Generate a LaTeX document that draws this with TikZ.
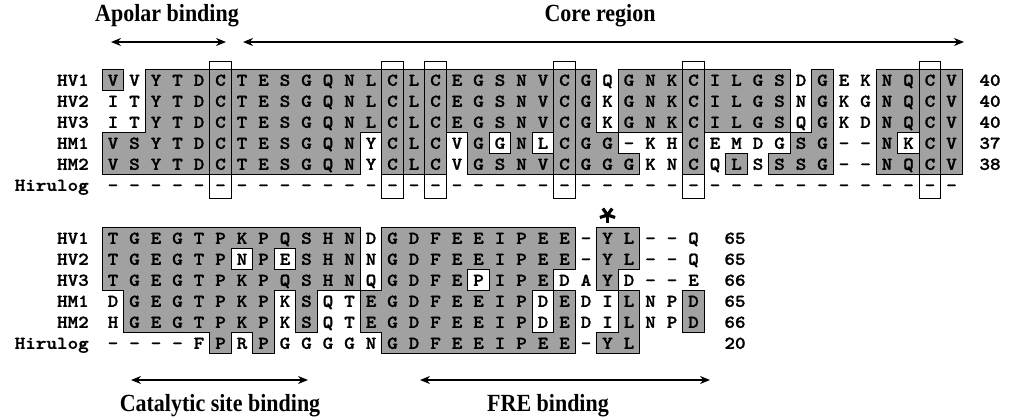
\documentclass[tikz,border=0pt]{standalone}
\usepackage{fontspec}
\setmainfont{Liberation Serif}
\newfontfamily\seqfont{lmmonolt10-bold.otf}[FakeBold=1.2]
\usetikzlibrary{arrows.meta}

% fonts
\newcommand\resfont{\seqfont\fontsize{18}{18}\selectfont}
\newcommand\headfont{\rmfamily\bfseries\fontsize{22}{22}\selectfont}
\newcommand\wideglyph[1]{\scalebox{1.12}[1]{#1}}
\newcommand\tallhead[1]{\scalebox{1}[1.12]{#1}}

% grid geometry (1 unit = 1 px, y grows downwards)
\def\cw{21.5}   % column pitch
\def\rh{21}     % row pitch
\def\xa{113}    % centre of the first column

% mark shaded cells: {block}{row}{first column}{last column}
\newcommand\shadecells[4]{%
  \foreach \k in {#3,...,#4}{\expandafter\gdef\csname sh-#1-#2-\k\endcsname{}}}

% one alignment row: {block}{row}{y}{residues}
\newcommand\putrow[4]{%
  \foreach \a [count=\cl] in {#4}{%
    \node[res] (r#1-#2-\cl) at ({\xa+(\cl-1)*\cw},{#3+5.8}) {\wideglyph{\a}};}}

% block 1 (residues 1-40)
\shadecells{1}{1}{1}{1}\shadecells{1}{1}{3}{23}\shadecells{1}{1}{25}{32}\shadecells{1}{1}{34}{34}\shadecells{1}{1}{37}{40}
\shadecells{1}{2}{3}{23}\shadecells{1}{2}{25}{32}\shadecells{1}{2}{34}{34}\shadecells{1}{2}{37}{40}
\shadecells{1}{3}{3}{23}\shadecells{1}{3}{25}{32}\shadecells{1}{3}{34}{34}\shadecells{1}{3}{37}{40}
\shadecells{1}{4}{1}{12}\shadecells{1}{4}{14}{16}\shadecells{1}{4}{18}{18}\shadecells{1}{4}{20}{20}
\shadecells{1}{4}{22}{24}\shadecells{1}{4}{28}{28}\shadecells{1}{4}{33}{34}\shadecells{1}{4}{37}{37}\shadecells{1}{4}{39}{40}
\shadecells{1}{5}{1}{12}\shadecells{1}{5}{14}{16}\shadecells{1}{5}{18}{25}\shadecells{1}{5}{28}{28}
\shadecells{1}{5}{30}{30}\shadecells{1}{5}{32}{34}\shadecells{1}{5}{37}{40}
% block 2 (C-terminal part)
\shadecells{2}{1}{1}{12}\shadecells{2}{1}{14}{22}\shadecells{2}{1}{24}{25}
\shadecells{2}{2}{1}{6}\shadecells{2}{2}{8}{8}\shadecells{2}{2}{10}{12}\shadecells{2}{2}{14}{22}\shadecells{2}{2}{24}{25}
\shadecells{2}{3}{1}{12}\shadecells{2}{3}{14}{17}\shadecells{2}{3}{19}{21}\shadecells{2}{3}{24}{24}
\shadecells{2}{4}{2}{8}\shadecells{2}{4}{10}{10}\shadecells{2}{4}{13}{20}\shadecells{2}{4}{22}{22}\shadecells{2}{4}{25}{25}\shadecells{2}{4}{28}{28}
\shadecells{2}{5}{2}{8}\shadecells{2}{5}{10}{10}\shadecells{2}{5}{13}{20}\shadecells{2}{5}{22}{22}\shadecells{2}{5}{25}{25}\shadecells{2}{5}{28}{28}
\shadecells{2}{6}{6}{6}\shadecells{2}{6}{8}{8}\shadecells{2}{6}{14}{22}\shadecells{2}{6}{24}{25}

\begin{document}
\begin{tikzpicture}[x=1pt,y=-1pt,
  cell/.style={fill=black!37},
  rim/.style={draw=black,line width=0.9pt,line cap=rect},
  res/.style={font=\resfont,inner sep=0pt,anchor=base},
  lab/.style={font=\resfont,inner sep=0pt,anchor=base east},
  head/.style={font=\headfont,inner sep=0pt},
  dbl/.style={{Stealth[length=10pt,width=8pt]}-{Stealth[length=10pt,width=8pt]},line width=1.4pt}]
\useasboundingbox (0,0) rectangle (1016,418);

% shaded cells
\foreach \bk/\yo/\n in {1/80/40,2/238/28}{
  \foreach \rw in {1,...,6}{
    \foreach \cl in {1,...,\n}{
      \ifcsname sh-\bk-\rw-\cl\endcsname
        \fill[cell] ({\xa+(\cl-1)*\cw-\cw/2-0.3},{\yo+(\rw-1)*\rh-\rh/2-0.3}) rectangle ++(\cw+0.6,\rh+0.6);
      \fi}}}

% outlines of the shaded regions
\foreach \bk/\yo/\n in {1/80/40,2/238/28}{
  \foreach \rw in {1,...,6}{
    \foreach \cl in {1,...,\n}{
      \ifcsname sh-\bk-\rw-\cl\endcsname
        \pgfmathsetmacro\xl{\xa+(\cl-1)*\cw-\cw/2}
        \pgfmathsetmacro\xr{\xl+\cw}
        \pgfmathsetmacro\yt{\yo+(\rw-1)*\rh-\rh/2}
        \pgfmathsetmacro\yb{\yt+\rh}
        \ifcsname sh-\bk-\rw-\the\numexpr\cl-1\relax\endcsname\else\draw[rim] (\xl,\yt) -- (\xl,\yb);\fi
        \ifcsname sh-\bk-\rw-\the\numexpr\cl+1\relax\endcsname\else\draw[rim] (\xr,\yt) -- (\xr,\yb);\fi
        \ifcsname sh-\bk-\the\numexpr\rw-1\relax-\cl\endcsname\else\draw[rim] (\xl,\yt) -- (\xr,\yt);\fi
        \ifcsname sh-\bk-\the\numexpr\rw+1\relax-\cl\endcsname\else\draw[rim] (\xl,\yb) -- (\xr,\yb);\fi
      \fi}}}

% conserved cysteine columns
\foreach \cl in {6,14,16,22,28,39}
  \draw[rim] ({\xa+(\cl-1)*\cw-\cw/2},61) rectangle ++(\cw,137);

% block 1
\putrow{1}{1}{80}{V,V,Y,T,D,C,T,E,S,G,Q,N,L,C,L,C,E,G,S,N,V,C,G,Q,G,N,K,C,I,L,G,S,D,G,E,K,N,Q,C,V}
\putrow{1}{2}{101}{I,T,Y,T,D,C,T,E,S,G,Q,N,L,C,L,C,E,G,S,N,V,C,G,K,G,N,K,C,I,L,G,S,N,G,K,G,N,Q,C,V}
\putrow{1}{3}{122}{I,T,Y,T,D,C,T,E,S,G,Q,N,L,C,L,C,E,G,S,N,V,C,G,K,G,N,K,C,I,L,G,S,Q,G,K,D,N,Q,C,V}
\putrow{1}{4}{143}{V,S,Y,T,D,C,T,E,S,G,Q,N,Y,C,L,C,V,G,G,N,L,C,G,G,–,K,H,C,E,M,D,G,S,G,–,–,N,K,C,V}
\putrow{1}{5}{164}{V,S,Y,T,D,C,T,E,S,G,Q,N,Y,C,L,C,V,G,S,N,V,C,G,G,G,K,N,C,Q,L,S,S,S,G,–,–,N,Q,C,V}
\putrow{1}{6}{185}{–,–,–,–,–,–,–,–,–,–,–,–,–,–,–,–,–,–,–,–,–,–,–,–,–,–,–,–,–,–,–,–,–,–,–,–,–,–,–,–}

% block 2
\putrow{2}{1}{238}{T,G,E,G,T,P,K,P,Q,S,H,N,D,G,D,F,E,E,I,P,E,E,–,Y,L,–,–,Q}
\putrow{2}{2}{259}{T,G,E,G,T,P,N,P,E,S,H,N,N,G,D,F,E,E,I,P,E,E,–,Y,L,–,–,Q}
\putrow{2}{3}{280}{T,G,E,G,T,P,K,P,Q,S,H,N,Q,G,D,F,E,P,I,P,E,D,A,Y,D,–,–,E}
\putrow{2}{4}{301}{D,G,E,G,T,P,K,P,K,S,Q,T,E,G,D,F,E,E,I,P,D,E,D,I,L,N,P,D}
\putrow{2}{5}{322}{H,G,E,G,T,P,K,P,K,S,Q,T,E,G,D,F,E,E,I,P,D,E,D,I,L,N,P,D}
\putrow{2}{6}{343}{–,–,–,–,F,P,R,P,G,G,G,G,N,G,D,F,E,E,I,P,E,E,–,Y,L}

% sequence names
\foreach \yo/\bk in {80/1,238/2}{
  \foreach \nm [count=\rw] in {HV1,HV2,HV3,HM1,HM2,Hirulog}
    \node[lab] (lab\bk-\rw) at (89,{\yo+(\rw-1)*\rh+5.8}) {\wideglyph{\nm}};}

% residue counts
\foreach \nm [count=\rw] in {40,40,40,37,38}
  \node[res] (cnt1-\rw) at (990,{80+(\rw-1)*\rh+5.8}) {\wideglyph{\nm}};
\foreach \nm [count=\rw] in {65,65,66,65,66,20}
  \node[res] (cnt2-\rw) at (735,{238+(\rw-1)*\rh+5.8}) {\wideglyph{\nm}};

% asterisk above Tyr 63
\coordinate (astk) at ({\xa+23*\cw},215);
\foreach \ang in {90,162,234,306,18}
  \draw[line width=3.2pt] (astk) -- ++(\ang:8);

% region labels and arrows
\node[head] (apolar) at (167,16) {\tallhead{Apolar binding}};
\node[head] (core) at (600,16) {\tallhead{Core region}};
\coordinate (ap1) at (111,42); \coordinate (ap2) at (226,42);
\coordinate (co1) at (243,42); \coordinate (co2) at (964,42);
\draw[dbl] (ap1) -- (ap2);
\draw[dbl] (co1) -- (co2);

\coordinate (ca1) at (131,380); \coordinate (ca2) at (308,380);
\coordinate (fr1) at (420,380); \coordinate (fr2) at (710,380);
\draw[dbl] (ca1) -- (ca2);
\draw[dbl] (fr1) -- (fr2);
\node[head] (catalytic) at (220,406) {\tallhead{Catalytic site binding}};
\node[head] (fre) at (548,406) {\tallhead{FRE binding}};
\end{tikzpicture}
\end{document}
